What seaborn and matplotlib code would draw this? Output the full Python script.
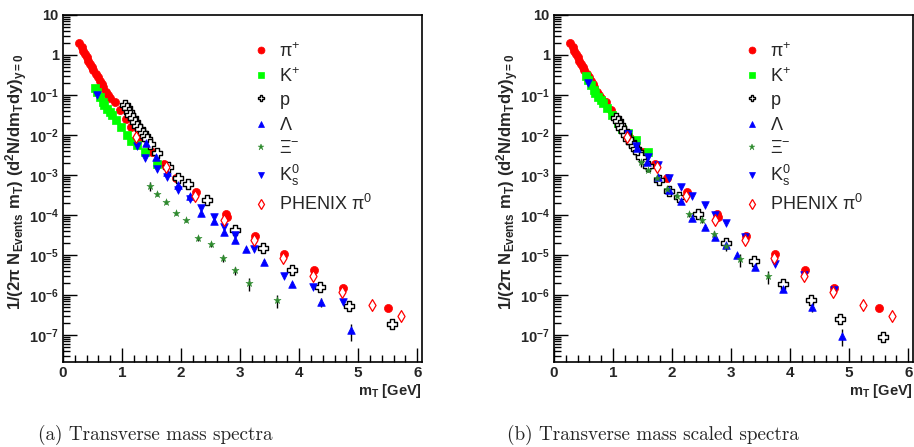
import numpy as np
import matplotlib
matplotlib.use('Agg')
import matplotlib.pyplot as plt
import seaborn as sns
from matplotlib.lines import Line2D
from matplotlib.ticker import LogLocator, MultipleLocator, NullFormatter

# values (left panel = unscaled spectra)
pi_mt = [0.27, 0.32, 0.34, 0.37, 0.40, 0.43, 0.46, 0.49, 0.51, 0.56, 0.59, 0.62, 0.66, 0.68, 0.73,
         0.77, 0.80, 0.88, 0.97, 1.06, 1.16, 1.29, 1.51, 1.71, 1.92, 2.25, 2.76, 2.77, 3.25, 3.75,
         4.25, 4.75, 5.50]
pi_y = [2.04, 1.55, 1.29, 1.07, 0.87, 0.72, 0.59, 0.49, 0.41, 0.33, 0.275, 0.23, 0.186, 0.155, 0.12,
        0.10, 0.083, 0.065, 0.041, 0.0245, 0.0155, 0.0083, 0.0038, 0.00186, 8.5e-4, 3.7e-4, 1.07e-4,
        8.9e-5, 3.0e-5, 1.05e-5, 4.2e-6, 1.48e-6, 4.8e-7]

k_mt = [0.54, 0.58, 0.62, 0.67, 0.70, 0.74, 0.79, 0.83, 0.90, 0.99, 1.08, 1.16, 1.25, 1.39, 1.59]
k_y = [0.148, 0.117, 0.091, 0.068, 0.055, 0.044, 0.037, 0.032, 0.023, 0.0155, 0.010, 0.0072,
       0.0056, 0.0037, 0.00186]

p_mt = [1.05, 1.08, 1.11, 1.14, 1.18, 1.22, 1.26, 1.31, 1.35, 1.39, 1.43, 1.48, 1.60, 1.77, 1.94,
        2.12, 2.44, 2.92, 3.38, 3.87, 4.36, 4.84, 5.57]
p_y = [0.056, 0.047, 0.038, 0.032, 0.026, 0.021, 0.017, 0.014, 0.0115, 0.0093, 0.0078, 0.0059,
       0.0035, 0.0016, 8.3e-4, 5.9e-4, 2.3e-4, 4.2e-5, 1.5e-5, 4.1e-6, 1.6e-6, 5.4e-7, 1.9e-7]

lam_mt = [1.41, 1.58, 1.76, 1.95, 2.15, 2.34, 2.55, 2.73, 2.92, 3.10, 3.41, 3.88, 4.37, 4.88]
lam_y = [0.0062, 0.0028, 0.00117, 5.6e-4, 3.0e-4, 1.12e-4, 6.9e-5, 3.8e-5, 2.4e-5, 1.38e-5,
         6.6e-6, 1.86e-6, 6.8e-7, 1.3e-7]
lam_err = [0, 0, 0, 0, 0, 0, 0, 0, 0, 0, 0.1, 0.1, 0.25, 0.45]

xi_mt = [1.48, 1.60, 1.74, 1.91, 2.08, 2.29, 2.50, 2.71, 2.92, 3.15, 3.62]
xi_y = [5.4e-4, 3.3e-4, 2.1e-4, 1.1e-4, 7.4e-5, 2.6e-5, 1.86e-5, 8.3e-6, 4.1e-6, 1.95e-6, 7.4e-7]
xi_err = [0.25, 0.12, 0.1, 0.1, 0.1, 0.15, 0.15, 0.2, 0.25, 0.35, 0.35]

ks_mt = [0.57, 1.25, 1.39, 1.59, 1.76, 1.955, 2.15, 2.34, 2.55, 2.73, 2.92, 3.24, 3.75, 4.24, 4.75]
ks_y = [0.10, 0.0052, 0.0027, 0.0014, 9.1e-4, 4.2e-4, 2.5e-4, 1.5e-4, 8.7e-5, 5.0e-5, 3.2e-5,
        1.4e-5, 2.9e-6, 1.6e-6, 6.6e-7]

phx_mt = [1.24, 1.74, 2.24, 2.73, 3.24, 3.73, 4.23, 4.73, 5.23, 5.72]
phx_y = [0.0087, 0.00158, 2.9e-4, 7.4e-5, 2.3e-5, 8.3e-6, 2.9e-6, 1.15e-6, 5.6e-7, 2.9e-7]

# scale factors used in the right panel (mass scaled spectra)
scale_pi, scale_k, scale_p, scale_lam, scale_xi, scale_ks, scale_phx = 1.0, 2.0, 0.47, 0.74, 4.0, 2.0, 1.0

labels = [r'$\mathrm{\pi^{+}}$', r'$\mathrm{K^{+}}$', r'$\mathrm{p}$', r'$\mathrm{\Lambda}$',
          r'$\mathrm{\Xi^{-}}$', r'$\mathrm{K_{s}^{0}}$', r'$\mathrm{PHENIX\ \pi^{0}}$']

sns.set_style('ticks')
plt.rcParams['font.family'] = ['Liberation Sans', 'DejaVu Sans']
plt.rcParams['mathtext.fontset'] = 'custom'
plt.rcParams['mathtext.rm'] = 'Liberation Sans'
plt.rcParams['mathtext.it'] = 'Liberation Sans:italic'
plt.rcParams['mathtext.bf'] = 'Liberation Sans:bold'

red, green, blue, dkgreen = '#ff0000', '#00ff00', '#0000ff', '#2e8b2e'

species = [
    dict(x=pi_mt, y=pi_y, err=None, sc=scale_pi, m='o', fc=red, ec=red, s=34, lw=0.5),
    dict(x=k_mt, y=k_y, err=None, sc=scale_k, m='s', fc=green, ec=green, s=26, lw=0.5),
    dict(x=p_mt, y=p_y, err=None, sc=scale_p, m='P', fc='white', ec='black', s=58, lw=1.0),
    dict(x=lam_mt, y=lam_y, err=lam_err, sc=scale_lam, m='^', fc=blue, ec=blue, s=30, lw=0.5),
    dict(x=xi_mt, y=xi_y, err=xi_err, sc=scale_xi, m='*', fc=dkgreen, ec=dkgreen, s=30, lw=0.3),
    dict(x=ks_mt, y=ks_y, err=None, sc=scale_ks, m='v', fc=blue, ec=blue, s=30, lw=0.5),
    dict(x=phx_mt, y=phx_y, err=None, sc=scale_phx, m='d', fc='white', ec=red, s=36, lw=0.9),
]

fig = plt.figure(figsize=(9.14, 4.47), dpi=100)
ax1 = fig.add_axes([63 / 914, 85 / 447, 359 / 914, 347 / 447])
ax2 = fig.add_axes([554 / 914, 85 / 447, 359 / 914, 347 / 447])

for ax, scaled in [(ax1, False), (ax2, True)]:
    for sp in species:
        f = sp['sc'] if scaled else 1.0
        y = np.array(sp['y']) * f
        if sp['err'] is not None:
            ax.errorbar(sp['x'], y, yerr=y * np.array(sp['err']), fmt='none',
                        ecolor='black', elinewidth=1, capsize=0, zorder=2)
        sns.scatterplot(x=sp['x'], y=y, ax=ax, marker=sp['m'], color=sp['fc'],
                        edgecolor=sp['ec'], linewidth=sp['lw'], s=sp['s'], zorder=3, legend=False)

    ax.set_yscale('log')
    ax.set_xlim(0, 6.08)
    ax.set_ylim(2.1e-8, 10)
    yt = [1e-7, 1e-6, 1e-5, 1e-4, 1e-3, 1e-2, 1e-1, 1, 10]
    ax.set_yticks(yt)
    ax.set_yticklabels([r'$\mathbf{10^{-%d}}$' % k for k in range(7, 0, -1)] + ['1', '10'],
                       fontsize=10.5, fontweight='bold')
    ax.yaxis.set_minor_locator(LogLocator(base=10, subs=np.arange(2, 10), numticks=20))
    ax.yaxis.set_minor_formatter(NullFormatter())
    ax.xaxis.set_major_locator(MultipleLocator(1))
    ax.xaxis.set_minor_locator(MultipleLocator(0.2))
    for lab in ax.get_xticklabels():
        lab.set_fontweight('bold')
        lab.set_fontsize(11)
    ax.tick_params(which='both', direction='in', top=False, right=False, color='black')
    ax.tick_params(which='major', length=10, width=1, pad=3)
    ax.tick_params(which='minor', length=5, width=1)
    for s in ax.spines.values():
        s.set_color('black')
        s.set_linewidth(1.2)
    ax.set_xlabel(r'$\mathbf{m_{T}\ [GeV]}$', loc='right', fontsize=10.5, labelpad=1)
    ax.set_ylabel(r'$\mathbf{1/(2\pi\ N_{Events}\ m_{T})\ (d^{2}N/dm_{T}dy)_{y=0}}$', fontsize=12)
    ax.yaxis.set_label_coords(-0.092, 0.52)

    handles = [Line2D([], [], linestyle='none', marker=sp['m'], markerfacecolor=sp['fc'],
                      markeredgecolor=sp['ec'], markeredgewidth=sp['lw'], markersize=5)
               for sp in species]
    ax.legend(handles, labels, loc='upper left', bbox_to_anchor=(0.532, 0.922), frameon=False,
              fontsize=13, handlelength=0.8, handletextpad=0.6, labelspacing=0.34, borderpad=0,
              borderaxespad=0)

fig.text(38 / 914, 12 / 447, '(a) Transverse mass spectra', family='cmr10', fontsize=13.8,
         ha='left', va='center')
fig.text(507 / 914, 12 / 447, '(b) Transverse mass scaled spectra', family='cmr10', fontsize=13.8,
         ha='left', va='center')

fig.savefig('out.png', dpi=100)
